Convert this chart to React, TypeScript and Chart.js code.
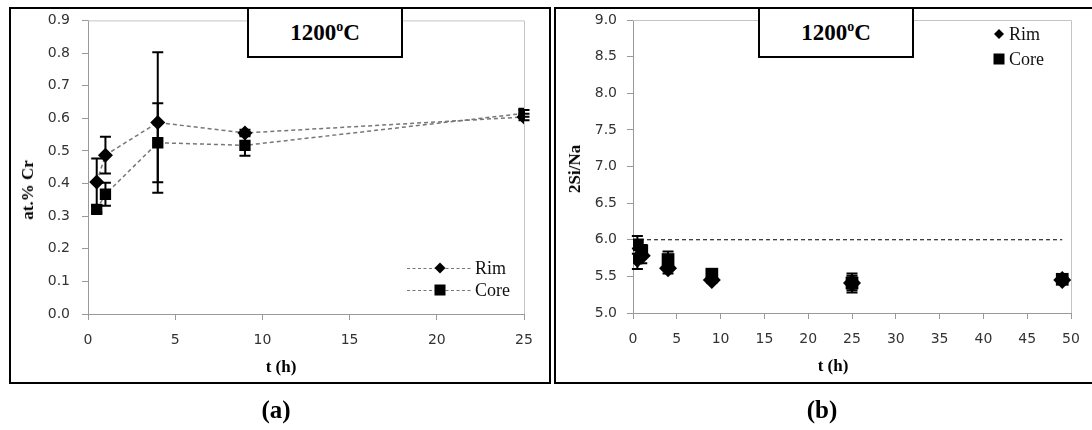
import React, { useEffect, useRef } from 'react';
import { Chart, registerables } from 'chart.js';

Chart.register(...registerables);

// ---------- Data: panel (a) ----------
const timeA = [0.5, 1, 4, 9, 25];
const rimCr = [0.405, 0.487, 0.587, 0.555, 0.604];
const rimCrErr = [0.072, 0.056, 0.215, 0.01, 0.01];
const coreCr = [0.321, 0.367, 0.525, 0.517, 0.615];
const coreCrErr = [0.01, 0.035, 0.121, 0.032, 0.01];
const xTicksA = [0, 5, 10, 15, 20, 25];
const yTicksA = [0, 0.1, 0.2, 0.3, 0.4, 0.5, 0.6, 0.7, 0.8, 0.9];

// ---------- Data: panel (b) ----------
const timeB = [0.5, 1, 4, 9, 25, 49];
const rimRatio = [5.74, 5.78, 5.61, 5.45, 5.41, 5.45];
const rimRatioErr = [0.14, 0.1, 0.07, 0.04, 0.13, 0.03];
const coreRatio = [5.93, 5.85, 5.73, 5.53, 5.41, 5.46];
const coreRatioErr = [0.12, 0.08, 0.11, 0.04, 0.1, 0.03];
const refX = [0, 49];
const refY = [6.0, 6.0];
const xTicksB = [0, 5, 10, 15, 20, 25, 30, 35, 40, 45, 50];
const yTicksB = [5.0, 5.5, 6.0, 6.5, 7.0, 7.5, 8.0, 8.5, 9.0];

const TICK_FONT = { family: '"DejaVu Sans"', size: 14 };
const TICK_COLOR = '#333';
const AXIS_COLOR = '#9a9a9a';

const errorBarsPlugin = {
  id: 'errorBars',
  afterDatasetsDraw(chart: any) {
    const { ctx, scales } = chart;
    const x = scales.x;
    const y = scales.y;
    chart.data.datasets.forEach((ds: any) => {
      if (!ds.errors) return;
      ctx.save();
      ctx.strokeStyle = '#000';
      ctx.lineWidth = 2;
      ctx.setLineDash([]);
      ds.data.forEach((p: any, j: number) => {
        const e = ds.errors[j];
        const px = x.getPixelForValue(p.x);
        const top = y.getPixelForValue(p.y + e);
        const bot = y.getPixelForValue(p.y - e);
        const cap = 5.5;
        ctx.beginPath();
        ctx.moveTo(px, top);
        ctx.lineTo(px, bot);
        ctx.moveTo(px - cap, top);
        ctx.lineTo(px + cap, top);
        ctx.moveTo(px - cap, bot);
        ctx.lineTo(px + cap, bot);
        ctx.stroke();
      });
      ctx.restore();
    });
  },
};

const framePlugin = {
  id: 'plotFrame',
  beforeDatasetsDraw(chart: any) {
    const { ctx, chartArea } = chart;
    ctx.save();
    ctx.strokeStyle = '#c4c4c4';
    ctx.lineWidth = 1;
    ctx.beginPath();
    ctx.moveTo(chartArea.left, chartArea.top + 0.5);
    ctx.lineTo(chartArea.right + 0.5, chartArea.top + 0.5);
    ctx.lineTo(chartArea.right + 0.5, chartArea.bottom);
    ctx.stroke();
    ctx.restore();
  },
};

function drawMarker(ctx: CanvasRenderingContext2D, style: string, cx: number, cy: number, r: number) {
  ctx.beginPath();
  if (style === 'rectRot') {
    ctx.moveTo(cx, cy - r);
    ctx.lineTo(cx + r, cy);
    ctx.lineTo(cx, cy + r);
    ctx.lineTo(cx - r, cy);
    ctx.closePath();
  } else {
    ctx.rect(cx - r, cy - r, 2 * r, 2 * r);
  }
  ctx.fill();
}

const legendPlugin = {
  id: 'customLegend',
  afterDraw(chart: any, _args: any, opts: any) {
    const { ctx } = chart;
    const items = chart.data.datasets.filter((d: any) => !d.noLegend);
    ctx.save();
    items.forEach((ds: any, i: number) => {
      const y = opts.y + i * opts.gap;
      const x0 = opts.x;
      let markerX = x0;
      let textX = x0 + 10;
      if (opts.showLine) {
        ctx.strokeStyle = ds.borderColor;
        ctx.lineWidth = 1.2;
        ctx.setLineDash([3, 2.5]);
        ctx.beginPath();
        ctx.moveTo(x0, y + 0.5);
        ctx.lineTo(x0 + opts.lineLen, y + 0.5);
        ctx.stroke();
        ctx.setLineDash([]);
        markerX = x0 + opts.lineLen / 2;
        textX = x0 + opts.lineLen + 2;
      }
      ctx.fillStyle = '#000';
      const r = ds.pointStyle === 'rectRot' ? opts.diamondR : opts.squareR;
      drawMarker(ctx, ds.pointStyle, markerX, y, r);
      ctx.fillStyle = '#111';
      ctx.font = '18px "Liberation Serif"';
      ctx.textBaseline = 'middle';
      ctx.textAlign = 'left';
      ctx.fillText(ds.label, textX, y + 1);
    });
    ctx.restore();
  },
};

function axisCommon(min: number, max: number, ticks: number[], decimals: number | null, pad: number) {
  return {
    type: 'linear' as const,
    min,
    max,
    afterBuildTicks: (s: any) => {
      s.ticks = ticks.map((v) => ({ value: v }));
    },
    grid: { drawOnChartArea: false, drawTicks: true, tickLength: 6, color: AXIS_COLOR },
    border: { color: AXIS_COLOR, width: 1 },
    ticks: {
      font: TICK_FONT,
      color: TICK_COLOR,
      padding: pad,
      maxRotation: 0,
      autoSkip: false,
      callback: (v: any) => (decimals === null ? String(v) : Number(v).toFixed(decimals)),
    },
  };
}

function ChartA() {
  const ref = useRef<HTMLCanvasElement>(null);
  useEffect(() => {
    const chart = new Chart(ref.current as HTMLCanvasElement, {
      type: 'scatter',
      data: {
        datasets: [
          {
            label: 'Rim',
            data: timeA.map((t, i) => ({ x: t, y: rimCr[i] })),
            errors: rimCrErr,
            showLine: true,
            borderColor: '#777',
            borderDash: [4, 3],
            borderWidth: 1.5,
            pointStyle: 'rectRot',
            pointRadius: 7.5,
            pointBackgroundColor: '#000',
            pointBorderColor: '#000',
            pointBorderWidth: 0,
          } as any,
          {
            label: 'Core',
            data: timeA.map((t, i) => ({ x: t, y: coreCr[i] })),
            errors: coreCrErr,
            showLine: true,
            borderColor: '#777',
            borderDash: [4, 3],
            borderWidth: 1.5,
            pointStyle: 'rect',
            pointRadius: 8,
            pointBackgroundColor: '#000',
            pointBorderColor: '#000',
            pointBorderWidth: 0,
          } as any,
        ],
      },
      options: {
        animation: false,
        responsive: false,
        devicePixelRatio: 1,
        layout: { padding: { left: 10, right: 568, top: 20, bottom: 56 } },
        plugins: {
          legend: { display: false },
          tooltip: { enabled: false },
          customLegend: { x: 407, y: 268, gap: 22, lineLen: 66, showLine: true, diamondR: 5.5, squareR: 5.5 },
        } as any,
        scales: {
          x: { ...axisCommon(0, 25, xTicksA, null, 12), afterFit: (s: any) => { s.height = 60; } } as any,
          y: { ...axisCommon(0, 0.9, yTicksA, 1, 12), afterFit: (s: any) => { s.width = 78; } } as any,
        },
      },
      plugins: [framePlugin, errorBarsPlugin, legendPlugin],
    });
    return () => chart.destroy();
  }, []);
  return <canvas ref={ref} width={1092} height={430} style={{ position: 'absolute', left: 0, top: 0, width: 1092, height: 430 }} />;
}

function ChartB() {
  const ref = useRef<HTMLCanvasElement>(null);
  useEffect(() => {
    const chart = new Chart(ref.current as HTMLCanvasElement, {
      type: 'scatter',
      data: {
        datasets: [
          {
            label: 'Rim',
            data: timeB.map((t, i) => ({ x: t, y: rimRatio[i] })),
            errors: rimRatioErr,
            showLine: false,
            borderColor: '#000',
            pointStyle: 'rectRot',
            pointRadius: 9,
            pointBackgroundColor: '#000',
            pointBorderColor: '#000',
            pointBorderWidth: 0,
          } as any,
          {
            label: 'Core',
            data: timeB.map((t, i) => ({ x: t, y: coreRatio[i] })),
            errors: coreRatioErr,
            showLine: false,
            borderColor: '#000',
            pointStyle: 'rect',
            pointRadius: 9,
            pointBackgroundColor: '#000',
            pointBorderColor: '#000',
            pointBorderWidth: 0,
          } as any,
          {
            label: 'ref',
            noLegend: true,
            data: refX.map((t, i) => ({ x: t, y: refY[i] })),
            showLine: true,
            borderColor: '#000',
            borderDash: [4, 3],
            borderWidth: 1,
            pointRadius: 0,
          } as any,
        ],
      },
      options: {
        animation: false,
        responsive: false,
        devicePixelRatio: 1,
        layout: { padding: { left: 560, right: 21, top: 20, bottom: 57 } },
        plugins: {
          legend: { display: false },
          tooltip: { enabled: false },
          customLegend: { x: 999, y: 34, gap: 25, lineLen: 0, showLine: false, diamondR: 5, squareR: 5.5 },
        } as any,
        scales: {
          x: { ...axisCommon(0, 50, xTicksB, null, 12), afterFit: (s: any) => { s.height = 60; } } as any,
          y: { ...axisCommon(5, 9, yTicksB, 1, 10), afterFit: (s: any) => { s.width = 73; } } as any,
        },
      },
      plugins: [framePlugin, errorBarsPlugin, legendPlugin],
    });
    return () => chart.destroy();
  }, []);
  return <canvas ref={ref} width={1092} height={430} style={{ position: 'absolute', left: 0, top: 0, width: 1092, height: 430 }} />;
}

const serif = '"Liberation Serif", "Times New Roman", serif';

function TitleBox({ left }: { left: number }) {
  return (
    <div
      style={{
        position: 'absolute',
        left,
        top: 7,
        width: 156,
        height: 51,
        boxSizing: 'border-box',
        border: '2px solid #000',
        background: '#fff',
        display: 'flex',
        alignItems: 'center',
        justifyContent: 'center',
        fontFamily: serif,
        fontWeight: 'bold',
        fontSize: 23,
        color: '#000',
        zIndex: 3,
      }}
    >
      <span>
        1200<sup style={{ fontSize: 14, verticalAlign: 'top', position: 'relative', top: -1 }}>o</sup>C
      </span>
    </div>
  );
}

function Label({ text, cx, cy, size, rotate }: { text: string; cx: number; cy: number; size: number; rotate?: boolean }) {
  return (
    <div
      style={{
        position: 'absolute',
        left: cx,
        top: cy,
        transform: `translate(-50%, -50%)${rotate ? ' rotate(-90deg)' : ''}`,
        fontFamily: serif,
        fontWeight: 'bold',
        fontSize: size,
        whiteSpace: 'nowrap',
        color: '#000',
        zIndex: 3,
      }}
    >
      {text}
    </div>
  );
}

export default function App() {
  return (
    <div style={{ position: 'absolute', left: 0, top: 0, width: 1092, height: 430, background: '#fff', overflow: 'hidden' }}>
      <ChartA />
      <ChartB />
      <div style={{ position: 'absolute', left: 9, top: 7, width: 542, height: 377, boxSizing: 'border-box', border: '2px solid #000', zIndex: 2, pointerEvents: 'none' }} />
      <div style={{ position: 'absolute', left: 554, top: 7, width: 545, height: 377, boxSizing: 'border-box', border: '2px solid #000', zIndex: 2, pointerEvents: 'none' }} />
      <TitleBox left={247} />
      <TitleBox left={758} />
      <Label text="t (h)" cx={281} cy={367} size={17} />
      <Label text="t (h)" cx={833} cy={366} size={17} />
      <Label text="at.% Cr" cx={28} cy={190} size={17} rotate />
      <Label text="2Si/Na" cx={575} cy={169} size={17} rotate />
      <Label text="(a)" cx={276} cy={410} size={25} />
      <Label text="(b)" cx={822} cy={410} size={25} />
    </div>
  );
}
